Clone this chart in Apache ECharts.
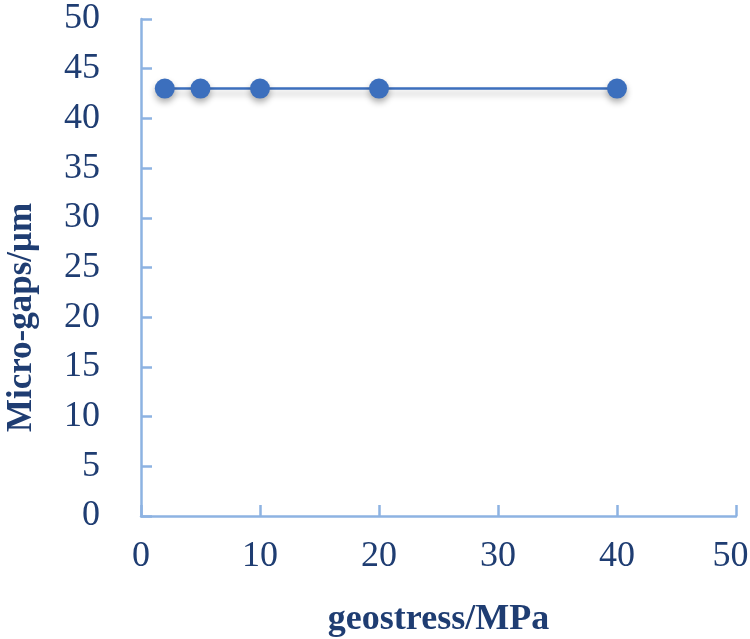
<!DOCTYPE html>
<html>
<head>
<meta charset="utf-8">
<script src="https://cdn.jsdelivr.net/npm/echarts@6/dist/echarts.min.js"></script>
<style>
  html, body { margin: 0; padding: 0; background: #fff; }
  #chart { width: 750px; height: 639px; }
</style>
</head>
<body>
<div id="chart"></div>
<script>
// 数据
var geostress = [2, 5, 10, 20, 40];
var microGaps = [43, 43, 43, 43, 43];

var textColor = "#1f3d72";
var axisColor = "#8db3e2";
var lineColor = "#3c6fbd";

var myChart = echarts.init(document.getElementById("chart"));
var option = {
  backgroundColor: "#fff",
  animation: false,
  grid: { left: 141, right: 14, top: 19, bottom: 123, outerBoundsMode: "none", containLabel: false },
  xAxis: {
    type: "value",
    min: 0, max: 50, interval: 10,
    name: "geostress/MPa",
    nameLocation: "middle",
    nameGap: 86,
    nameTextStyle: { fontFamily: "Liberation Serif", fontSize: 36, fontWeight: "bold", color: textColor },
    axisLine: { show: true, lineStyle: { color: axisColor, width: 2.5 } },
    axisTick: { show: true, inside: true, length: 11, lineStyle: { color: axisColor, width: 2.5 } },
    axisLabel: {
      fontFamily: "Liberation Serif", fontSize: 36, color: textColor, margin: 23, hideOverlap: false,
      // 最右端标签往左挪一点，避免被裁掉
      formatter: function (v) { return v === 50 ? "{m|" + v + "}" : String(v); },
      rich: { m: { fontFamily: "Liberation Serif", fontSize: 36, color: textColor, padding: [0, 11, 0, 0] } }
    },
    splitLine: { show: false }
  },
  yAxis: {
    type: "value",
    min: 0, max: 50, interval: 5,
    name: "Micro-gaps/μm",
    nameLocation: "middle",
    nameGap: 102,
    nameTextStyle: { fontFamily: "Liberation Serif", fontSize: 35, fontWeight: "bold", color: textColor, padding: [0, 100, 0, 0] },
    axisLine: { show: true, lineStyle: { color: axisColor, width: 2.5 } },
    axisTick: { show: true, inside: true, length: 11, lineStyle: { color: axisColor, width: 2.5 } },
    axisLabel: { fontFamily: "Liberation Serif", fontSize: 36, color: textColor, margin: 41 },
    splitLine: { show: false }
  },
  series: [{
    type: "line",
    data: geostress.map(function (x, i) { return [x, microGaps[i]]; }),
    symbol: "circle",
    symbolSize: 20,
    lineStyle: { color: lineColor, width: 2.5, shadowColor: "rgba(0,0,0,0.25)", shadowBlur: 6, shadowOffsetY: 5 },
    itemStyle: { color: lineColor, shadowColor: "rgba(0,0,0,0.3)", shadowBlur: 6, shadowOffsetY: 4 }
  }]
};
myChart.setOption(option);
</script>
</body>
</html>
